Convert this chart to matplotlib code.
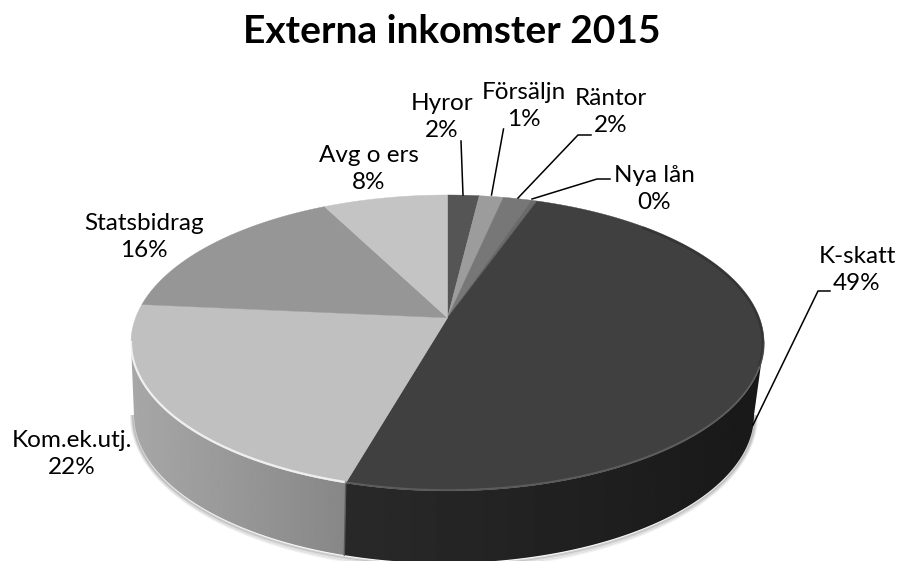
import numpy as np
import matplotlib
matplotlib.use("Agg")
import matplotlib.pyplot as plt
from matplotlib.patches import Polygon

plt.rcParams['font.family'] = ['Lato', 'DejaVu Sans']

# slices clockwise from 12 o'clock
kategorier = ['Hyror', 'Försäljn', 'Räntor', 'Nya lån', 'K-skatt', 'Kom.ek.utj.', 'Statsbidrag', 'Avg o ers']
andelar = [1.9, 1.45, 1.7, 0.35, 49.0, 22.1, 16.0, 7.5]
etiketter = ['2%', '1%', '2%', '0%', '49%', '22%', '16%', '8%']
farger = ['#555555', '#9c9c9c', '#777777', '#6a6a6a', '#404040', '#c0c0c0', '#969696', '#c4c4c4']

# label centres and leader lines in pixels
etikettPos = [(442, 117), (524, 106), (611, 112), (654, 189), (857, 270), (72, 454), (144, 237), (369, 169)]
ledare = [
    [(461, 141), (463, 195)],
    [(503.5, 129), (491.5, 195)],
    [(591, 135), (578, 135), (518, 198)],
    [(610, 179), (597, 179), (532, 199)],
    [(830, 291), (818, 291), (753, 425)],
]

# ellipse of the top face and of the bottom rim
cx, cy, rx, ry = 447.5, 343.0, 316.5, 148.0
cxB, cyB, rxB, ryB = 444.0, 415.0, 310.0, 148.0
k = 0.17  # perspective: shifts the pie centre upwards


def projetar(u, v):
    # unit circle -> ellipse, keeps the circle but moves its centre
    n = 1 + k * v
    X = u * np.sqrt(1 - k**2) / n
    Y = (v + k) / n
    return cx + rx * X, cy - ry * Y


def pontoAngulo(frac):
    return np.sin(2 * np.pi * frac), np.cos(2 * np.pi * frac)


def paredeLateral(t0, t1, x0, x1, g0, g1):
    # side wall between two rim angles, gradient in x clipped to its outline
    t = np.linspace(t0, t1, 200)
    xs = np.r_[cx + rx * np.cos(t), cxB + rxB * np.cos(t[::-1])]
    ys = np.r_[cy + ry * np.sin(t), cyB + ryB * np.sin(t[::-1])]
    contorno = Polygon(np.c_[xs, ys], closed=True, transform=ax.transData, fc='none', ec='none')
    ax.add_patch(contorno)
    grad = np.linspace(g0, g1, 256)[None, :]
    im = ax.imshow(grad, extent=(x0, x1, 561, 0), aspect='auto', cmap='gray', vmin=0, vmax=1,
                   interpolation='bilinear', zorder=2)
    im.set_clip_path(contorno)


fig = plt.figure(figsize=(8.98, 5.61), dpi=100)
ax = fig.add_axes([0, 0, 1, 1])

fracoes = np.cumsum([0] + andelar) / np.sum(andelar)

# soft shadow under the bottom rim
t = np.linspace(0, np.pi, 300)
for d, alfa in zip([5, 3.5, 2, 1], [0.06, 0.08, 0.1, 0.14]):
    ax.plot(cxB + (rxB + d * 0.6) * np.cos(t), cyB + (ryB + d) * np.sin(t) + 1,
            color='black', alpha=alfa, lw=1.5, zorder=1)

# side wall, images run a bit past the split so no gap stays between them
xLimite, yLimite = projetar(*pontoAngulo(fracoes[5]))
tLimite = np.arctan2((yLimite - cy) / ry, (xLimite - cx) / rx)
paredeLateral(0, tLimite, xLimite - 15, 770, 0.165, 0.095)
paredeLateral(tLimite, np.pi, 125, xLimite + 15, 0.66, 0.52)
ax.plot([cx + rx * np.cos(tLimite), cxB + rxB * np.cos(tLimite)],
        [cy + ry * np.sin(tLimite), cyB + ryB * np.sin(tLimite)],
        color='#5a5a5a', lw=1.0, zorder=2.5)

# top face
for i, cor in enumerate(farger):
    a = np.linspace(fracoes[i], fracoes[i + 1], 200)
    u, v = pontoAngulo(a)
    px, py = projetar(u, v)
    x0, y0 = projetar(0.0, 0.0)
    ax.fill(np.r_[x0, px], np.r_[y0, py], color=cor, lw=0.3, ec=cor, zorder=3)

# bevel along the rim
t = np.linspace(0.0, np.pi, 400)
ex = cx + rx * np.cos(t)
ey = cy + ry * np.sin(t)
direita = t < tLimite
ax.plot(ex[~direita], ey[~direita] - 1, color='white', lw=1.6, alpha=0.75, zorder=4)
ax.plot(ex[direita], ey[direita] - 1, color='#707070', lw=1.2, alpha=0.6, zorder=4)
t = np.linspace(-0.9, 0.15, 200)
ax.plot(cx + (rx - 1) * np.cos(t), cy + (ry - 1) * np.sin(t), color='#222222', lw=2, alpha=0.4, zorder=4)

# labels
for nome, pct, (x, y) in zip(kategorier, etiketter, etikettPos):
    ax.text(x, y, nome + '\n' + pct, ha='center', va='center', fontsize=17.5,
            linespacing=1.4, color='black', zorder=6)
for linha in ledare:
    ax.plot([p[0] for p in linha], [p[1] for p in linha], color='black', lw=1.1, zorder=5)

ax.text(452, 31, 'Externa inkomster 2015', ha='center', va='center', fontsize=28,
        fontweight='bold', color='black')

ax.set_xlim(0, 898)
ax.set_ylim(561, 0)
ax.axis('off')

fig.savefig('out.png', dpi=100)
